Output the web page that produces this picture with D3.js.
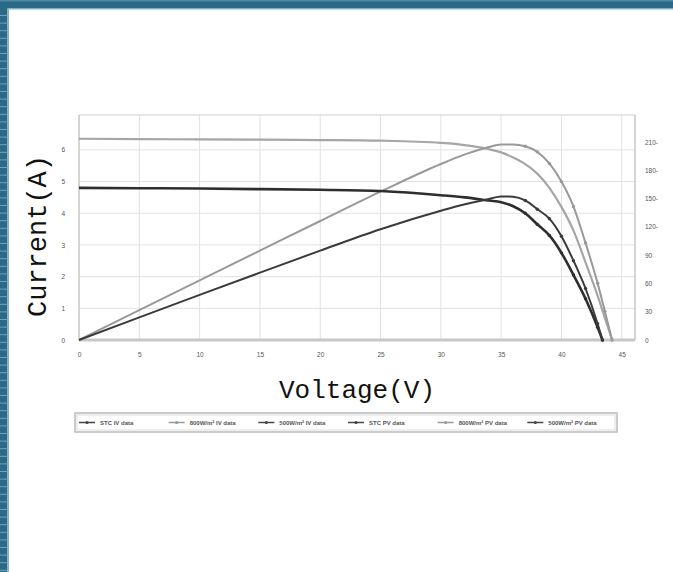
<!DOCTYPE html>
<html>
<head>
<meta charset="utf-8">
<script src="https://cdn.jsdelivr.net/npm/d3@7"></script>
<style>
  html, body { margin: 0; padding: 0; background: #fff; overflow: hidden; }
  svg { display: block; }
</style>
</head>
<body>
<script>
// Data
const voltGrey = [0, 5, 10, 15, 20, 25, 30, 32, 34, 35, 36, 37, 38, 39, 40, 41, 42, 43, 43.6, 44.2];
const currGrey = [6.35, 6.34, 6.33, 6.32, 6.31, 6.29, 6.22, 6.15, 6.02, 5.92, 5.76, 5.55, 5.25, 4.8, 4.2, 3.45, 2.45, 1.4, 0.7, 0];
const powGrey = [0, 31.7, 63.3, 94.8, 126.2, 157.3, 186.6, 196.8, 204.7, 207.2, 207.4, 205.4, 199.5, 187.2, 168, 141.5, 102.9, 60.2, 30.5, 0];

const voltDark = [0, 5, 10, 15, 20, 25, 30, 32, 34, 35, 36, 37, 38, 39, 40, 41, 42, 43, 43.4];
const currDark = [4.8, 4.79, 4.78, 4.76, 4.74, 4.7, 4.57, 4.5, 4.4, 4.35, 4.22, 4.0, 3.65, 3.3, 2.75, 2.05, 1.3, 0.4, 0];
const powDark = [0, 24.0, 47.8, 71.4, 94.8, 117.5, 137.1, 144.0, 149.6, 152.3, 151.9, 148.0, 138.7, 128.7, 110.0, 84.1, 54.6, 17.2, 0];

const xTicks = [0, 5, 10, 15, 20, 25, 30, 35, 40, 45];
const leftTicks = [0, 1, 2, 3, 4, 5, 6];
const rightTicks = [0, 30, 60, 90, 120, 150, 180, 210];

const legendNames = ["STC IV data", "800W/m² IV data", "500W/m² IV data", "STC PV data", "800W/m² PV data", "500W/m² PV data"];
const legendColors = ["#444", "#999", "#444", "#444", "#999", "#444"];

const width = 673;
const height = 572;

const svg = d3.select("body").append("svg")
  .attr("width", width)
  .attr("height", height);

// Page frame (teal bars)
svg.append("rect").attr("x", 0).attr("y", 0).attr("width", width).attr("height", 8).attr("fill", "#2a6a86");
svg.append("rect").attr("x", 0).attr("y", 0).attr("width", width).attr("height", 1.5).attr("fill", "#4f8aa3");
svg.append("rect").attr("x", 7).attr("y", 8).attr("width", width - 7).attr("height", 1.5).attr("fill", "#80b2c6");
svg.append("rect").attr("x", 0).attr("y", 8).attr("width", 7.5).attr("height", height - 8).attr("fill", "#2a6a86");
svg.append("rect").attr("x", 7.5).attr("y", 8).attr("width", 1.5).attr("height", height - 8).attr("fill", "#80b2c6");
svg.selectAll(".stripe")
  .data(d3.range(15, height, 7.6))
  .enter().append("rect")
  .attr("class", "stripe")
  .attr("x", 0).attr("y", (d) => d)
  .attr("width", 7.5).attr("height", 1)
  .attr("fill", "#6fa3b8");

// Scales
const x = d3.scaleLinear().domain([0, 46.1]).range([79, 635]);
const yL = d3.scaleLinear().domain([0, 7.1]).range([340, 115]);
const yR = d3.scaleLinear().domain([0, 238.6]).range([340, 115]);

// Gridlines
svg.append("g").selectAll("line")
  .data(xTicks.slice(1))
  .enter().append("line")
  .attr("x1", (d) => x(d)).attr("x2", (d) => x(d))
  .attr("y1", 115).attr("y2", 340)
  .attr("stroke", "#e2e2e2");

svg.append("g").selectAll("line")
  .data(leftTicks.slice(1))
  .enter().append("line")
  .attr("x1", 79).attr("x2", 635)
  .attr("y1", (d) => yL(d)).attr("y2", (d) => yL(d))
  .attr("stroke", "#e2e2e2");

// Frame
svg.append("line").attr("x1", 79).attr("x2", 635).attr("y1", 115).attr("y2", 115).attr("stroke", "#d0d0d0");
svg.append("line").attr("x1", 79).attr("x2", 79).attr("y1", 115).attr("y2", 340).attr("stroke", "#aaa");
svg.append("line").attr("x1", 635).attr("x2", 635).attr("y1", 115).attr("y2", 340).attr("stroke", "#aaa");
svg.append("line").attr("x1", 79).attr("x2", 635).attr("y1", 340).attr("y2", 340).attr("stroke", "#c8c8c8").attr("stroke-width", 3);

// Axes
const tickFont = (g) => {
  g.select(".domain").remove();
  g.selectAll(".tick line").remove();
  g.selectAll("text")
    .attr("fill", "#555")
    .style("font-family", "Liberation Sans, Arial, sans-serif")
    .style("font-size", "6.5px");
};

svg.append("g")
  .attr("transform", "translate(0, 340)")
  .call(d3.axisBottom(x).tickValues(xTicks).tickSize(0).tickPadding(12))
  .call(tickFont);

svg.append("g")
  .attr("transform", "translate(79, 0)")
  .call(d3.axisLeft(yL).tickValues(leftTicks).tickSize(0).tickPadding(14))
  .call(tickFont);

svg.append("g")
  .attr("transform", "translate(635, 0)")
  .call(d3.axisRight(yR).tickValues(rightTicks).tickSize(0).tickPadding(10)
    .tickFormat((d) => (d >= 100 ? d + "-" : d)))
  .call(tickFont);

// Series
const series = [
  { v: voltGrey, val: currGrey, y: yL, color: "#a6a6a6", w: 2.2, marks: false },
  { v: voltGrey, val: powGrey, y: yR, color: "#999", w: 2, marks: true },
  { v: voltDark, val: currDark, y: yL, color: "#2e2e2e", w: 2.6, marks: true },
  { v: voltDark, val: powDark, y: yR, color: "#3a3a3a", w: 2, marks: true },
];

series.forEach((s) => {
  const pts = s.v.map((v, i) => [v, s.val[i]]);
  const line = d3.line()
    .x((d) => x(d[0]))
    .y((d) => s.y(d[1]))
    .curve(d3.curveMonotoneX);
  svg.append("path")
    .datum(pts)
    .attr("d", line)
    .attr("fill", "none")
    .attr("stroke", s.color)
    .attr("stroke-width", s.w);
  if (s.marks) {
    svg.append("g").selectAll("circle")
      .data(pts.filter((d) => d[0] >= 37))
      .enter().append("circle")
      .attr("cx", (d) => x(d[0]))
      .attr("cy", (d) => s.y(d[1]))
      .attr("r", 1.7)
      .attr("fill", s.color);
  }
});

// Axis titles
svg.append("text")
  .attr("x", 357)
  .attr("y", 398)
  .attr("text-anchor", "middle")
  .style("font-family", "Liberation Mono, Courier New, monospace")
  .style("font-size", "26px")
  .attr("fill", "#111")
  .text("Voltage(V)");

svg.append("text")
  .attr("transform", "translate(46, 236) rotate(-90)")
  .attr("text-anchor", "middle")
  .style("font-family", "Liberation Mono, Courier New, monospace")
  .style("font-size", "27px")
  .attr("fill", "#111")
  .text("Current(A)");

// Legend
const legend = svg.append("g");
legend.append("rect")
  .attr("x", 75).attr("y", 413).attr("width", 542).attr("height", 19)
  .attr("fill", "#fff").attr("stroke", "#bbb").attr("stroke-width", 1.5);
legend.append("rect")
  .attr("x", 77).attr("y", 415).attr("width", 538).attr("height", 15)
  .attr("fill", "none").attr("stroke", "#ddd");

const legendX = d3.scaleBand().domain(legendNames).range([79, 617]);

const items = legend.selectAll(".item")
  .data(legendNames)
  .enter().append("g")
  .attr("class", "item")
  .attr("transform", (d) => `translate(${legendX(d)}, 422.5)`);

items.append("line")
  .attr("x1", 0).attr("x2", 16).attr("y1", 0).attr("y2", 0)
  .attr("stroke", (d, i) => legendColors[i])
  .attr("stroke-width", 1.5);
items.append("circle")
  .attr("cx", 8).attr("cy", 0).attr("r", 1.6)
  .attr("fill", (d, i) => legendColors[i]);
items.append("text")
  .attr("x", 21).attr("y", 0).attr("dy", "0.35em")
  .style("font-family", "Liberation Sans, Arial, sans-serif")
  .style("font-size", "6px")
  .style("font-weight", "bold")
  .attr("fill", "#555")
  .text((d) => d);
</script>
</body>
</html>
